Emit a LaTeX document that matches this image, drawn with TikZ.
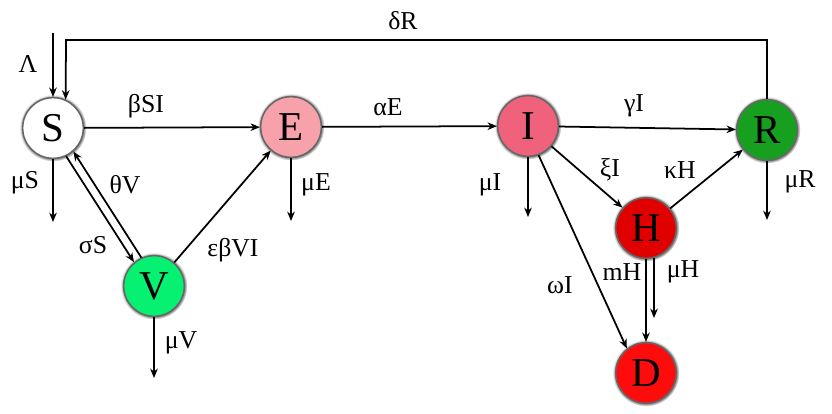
\documentclass[tikz,border=0pt]{standalone}
\usepackage{fontspec}
\setmainfont{Liberation Serif}
\usepackage{xcolor}
\usetikzlibrary{arrows.meta}
\usetikzlibrary{shadows}

\definecolor{colS}{HTML}{FFFFFF}
\definecolor{colE}{HTML}{F7A1AB}
\definecolor{colI}{HTML}{F0627C}
\definecolor{colR}{HTML}{17A01F}
\definecolor{colH}{HTML}{E10000}
\definecolor{colD}{HTML}{FE0C0C}
\definecolor{colV}{HTML}{06F072}

\tikzset{
	comp/.style={circle, draw=black!60, line width=1.3pt, minimum size=1.82cm, inner sep=0pt,
		font=\fontsize{35}{38}\selectfont,
		circular glow={fill=black, shadow scale=1.1, opacity=0.8}},
	flow/.style={-{Stealth[length=8pt,width=6.5pt]}, line width=1.5pt},
	lab/.style={font=\fontsize{22}{24}\selectfont, inner sep=0pt},
}

\begin{document}
\begin{tikzpicture}[x=0.03cm, y=-0.03cm]
		\useasboundingbox (0,0) rectangle (832,413) ;
\par
\node[comp, fill=colS] (S) at (53,128) {S} ;
		\node[comp, fill=colE] (E) at (291,127) {E} ;
		\node[comp, fill=colI] (I) at (528,126) {I} ;
		\node[comp, fill=colR] (R) at (767,130) {R} ;
		\node[comp, fill=colH] (H) at (646,228) {H} ;
		\node[comp, fill=colD] (D) at (646,373) {D} ;
		\node[comp, fill=colV] (V) at (154,286) {V} ;
\par
\coordinate (lam) at (53,33) ;
		\coordinate (back) at (66,40) ;
		\coordinate (outS) at (53,222) ;
		\coordinate (outE) at (291,221) ;
		\coordinate (outI) at (528,217) ;
		\coordinate (outR) at (767,220) ;
		\coordinate (outV) at (154,378) ;
		\coordinate (outH) at (654,318) ;
\par
\draw[flow] (lam) -- (S.north) ;
		\draw[flow] (R.north) |- (back) -- (S.66) ;
		\draw[flow] (S) -- (E) ;
		\draw[flow] (E) -- (I) ;
		\draw[flow] (I) -- (R) ;
		\draw[flow] (I) -- (H) ;
		\draw[flow] (H) -- (R) ;
		\draw[flow] (I.-70) -- (D.128) ;
		\draw[flow] (H.south) -- (D.north) ;
		\draw[flow] (H.-75) -- (outH) ;
		\draw[flow] (V) -- (E) ;
		\draw[flow] (V.114.6) -- (S.-49.4) ;
		\draw[flow] (S.-65.4) -- (V.130.6) ;
\par
\draw[flow] (S.south) -- (outS) ;
		\draw[flow] (E.south) -- (outE) ;
		\draw[flow] (I.south) -- (outI) ;
		\draw[flow] (R.south) -- (outR) ;
		\draw[flow] (V.south) -- (outV) ;
\par
\node[lab] (lLam) at (28,64) {Λ} ;
		\node[lab] (lDel) at (403,21) {δR} ;
		\node[lab] (lBet) at (146,106) {βSI} ;
		\node[lab] (lAlp) at (388,107) {αE} ;
		\node[lab] (lGam) at (634,106) {γI} ;
		\node[lab] (lXi) at (610,170) {ξI} ;
		\node[lab] (lKap) at (680,170) {κH} ;
		\node[lab] (lOme) at (560,285) {ωI} ;
		\node[lab] (lm) at (622,272) {mH} ;
		\node[lab] (lmuH) at (683,272) {μH} ;
		\node[lab] (lThe) at (125,185) {θV} ;
		\node[lab] (lSig) at (93,245) {σS} ;
		\node[lab] (lEps) at (233,250) {εβVI} ;
\par
\node[lab] (lmuS) at (25,183) {μS} ;
		\node[lab] (lmuE) at (316,185) {μE} ;
		\node[lab] (lmuI) at (490,185) {μI} ;
		\node[lab] (lmuR) at (800,182) {μR} ;
		\node[lab] (lmuV) at (181,343) {μV} ;
	\end{tikzpicture}
\end{document}
